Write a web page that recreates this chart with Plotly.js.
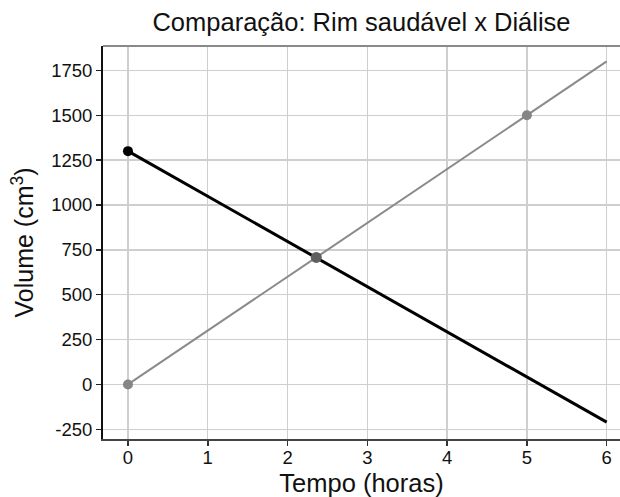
<!DOCTYPE html>
<html>
<head>
<meta charset="utf-8">
<script src="https://cdn.plot.ly/plotly-3.0.1.min.js"></script>
<style>html,body{margin:0;padding:0;background:#fff;}#chart{width:620px;height:497px;}</style>
</head>
<body>
<div id="chart"></div>
<script>
// Data
const tempoSaudavel = [0, 6];
const volumeSaudavel = [0, 1800];
const tempoDialise = [0, 6];
const volumeDialise = [1300, -210];
const pontosSaudavelX = [0, 5];
const pontosSaudavelY = [0, 1500];
const pontoDialiseX = [0];
const pontoDialiseY = [1300];
const intersecaoX = [2.36];
const intersecaoY = [708];
const xTicks = [0, 1, 2, 3, 4, 5, 6];
const yTicks = [-250, 0, 250, 500, 750, 1000, 1250, 1500, 1750];

const traces = [
  {x: tempoSaudavel, y: volumeSaudavel, mode: 'lines', line: {color: '#8a8a8a', width: 2}, hoverinfo: 'skip'},
  {x: pontosSaudavelX, y: pontosSaudavelY, mode: 'markers', marker: {color: '#858585', size: 10}},
  {x: tempoDialise, y: volumeDialise, mode: 'lines', line: {color: '#000000', width: 3}},
  {x: pontoDialiseX, y: pontoDialiseY, mode: 'markers', marker: {color: '#000000', size: 10}},
  {x: intersecaoX, y: intersecaoY, mode: 'markers', marker: {color: '#5f5f5f', size: 11}}
];

const font = 'Liberation Sans, Arial, sans-serif';
const layout = {
  width: 620, height: 497,
  margin: {l: 103, r: 0, t: 46, b: 58, pad: 0},
  paper_bgcolor: '#ffffff', plot_bgcolor: '#ffffff',
  showlegend: false,
  font: {family: font, color: '#111'},
  title: {text: 'Comparação: Rim saudável x Diálise', font: {family: font, size: 25.5, color: '#111'},
          x: 0.5, xref: 'paper', y: 1 - 22/497, yref: 'container', yanchor: 'middle'},
  xaxis: {
    range: [-0.313, 6.167], tickvals: xTicks, ticktext: xTicks.map(String),
    showgrid: true, gridcolor: '#cfcfcf', gridwidth: 1.3, zeroline: false,
    ticks: 'outside', ticklen: 5, tickwidth: 1.5, tickcolor: '#333',
    showline: true, linecolor: '#444', linewidth: 2,
    ticklabelstandoff: -4,
    tickfont: {family: font, size: 18.5, color: '#111'},
    title: {text: 'Tempo (horas)', font: {family: font, size: 25.5, color: '#111'}, standoff: 12}
  },
  yaxis: {
    range: [-304, 1886], tickvals: yTicks, ticktext: yTicks.map(String),
    showgrid: true, gridcolor: '#cfcfcf', gridwidth: 1.3, zeroline: false,
    ticks: 'outside', ticklen: 5, tickwidth: 1.5, tickcolor: '#222',
    showline: true, linecolor: '#111', linewidth: 2,
    tickfont: {family: font, size: 18.5, color: '#111'},
    title: {text: 'Volume (cm<sup>3</sup>)', font: {family: font, size: 25, color: '#111'}, standoff: 10}
  },
  shapes: [
    {type: 'line', xref: 'paper', yref: 'paper', x0: 0, x1: 1, y0: 1, y1: 1, line: {color: '#8a8a8a', width: 2}}
  ]
};

Plotly.newPlot('chart', traces, layout, {displayModeBar: false, staticPlot: true});
</script>
</body>
</html>
